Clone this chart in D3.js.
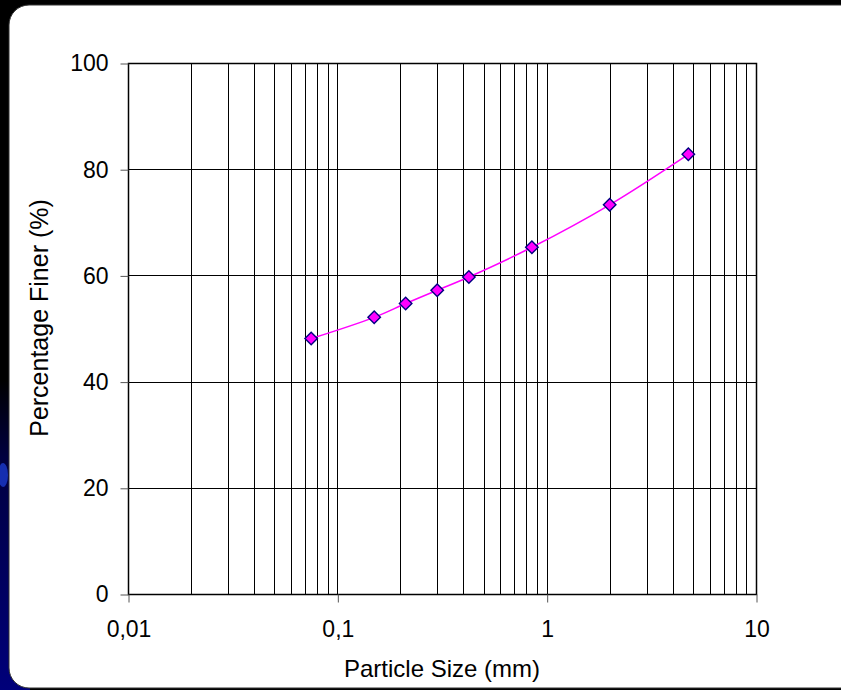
<!DOCTYPE html>
<html>
<head>
<meta charset="utf-8">
<script src="https://cdn.jsdelivr.net/npm/d3@7"></script>
<style>
  body { margin: 0; background: #000; }
  svg { display: block; }
  text { font-family: "Liberation Sans", Arial, sans-serif; fill: #000; }
</style>
</head>
<body>
<div id="chart"></div>
<script>
// sieve sizes (mm) and percentage finer
var sizes = [0.075, 0.15, 0.212, 0.3, 0.425, 0.85, 2, 4.75];
var finer = [48.1, 52.1, 54.7, 57.2, 59.7, 65.3, 73.3, 82.8];

var xTicks = [0.01, 0.1, 1, 10];
var xTickLabels = ["0,01", "0,1", "1", "10"];
var yTicks = [0, 20, 40, 60, 80, 100];

var width = 841, height = 690;
var plotLeft = 128, plotRight = 756, plotTop = 63, plotBottom = 594;

var svg = d3.select("#chart").append("svg")
    .attr("width", width)
    .attr("height", height);

// background + blue glow at lower left
var defs = svg.append("defs");
var glow = defs.append("linearGradient")
    .attr("id", "glow").attr("x1", 0).attr("y1", 0).attr("x2", 0).attr("y2", 1);
glow.append("stop").attr("offset", "0%").attr("stop-color", "#000");
glow.append("stop").attr("offset", "25%").attr("stop-color", "#000040");
glow.append("stop").attr("offset", "100%").attr("stop-color", "#00007a");

svg.append("rect").attr("width", width).attr("height", height).attr("fill", "#000");
svg.append("rect").attr("x", 0).attr("y", 380).attr("width", 30).attr("height", 310)
    .attr("fill", "url(#glow)");
svg.append("ellipse").attr("cx", 3).attr("cy", 475).attr("rx", 5).attr("ry", 12)
    .attr("fill", "#1a3acc").attr("opacity", 0.8);

// white panel
svg.append("rect")
    .attr("x", 9).attr("y", 5)
    .attr("width", 860).attr("height", 683)
    .attr("rx", 20).attr("ry", 20)
    .attr("fill", "#fff")
    .attr("stroke", "#333").attr("stroke-width", 1);

var x = d3.scaleLog().domain([0.01, 10]).range([plotLeft, plotRight]);
var y = d3.scaleLinear().domain([0, 100]).range([plotBottom, plotTop]);

// vertical grid at every 1..9 of each decade
var gridX = [];
xTicks.slice(0, -1).forEach(function (d) {
    for (var k = 1; k < 10; k++) gridX.push(d * k);
});
gridX.push(10);

svg.append("g").selectAll("line")
    .data(gridX)
    .enter().append("line")
    .attr("x1", function (d) { return Math.round(x(d)) + 0.5; })
    .attr("x2", function (d) { return Math.round(x(d)) + 0.5; })
    .attr("y1", plotTop).attr("y2", plotBottom)
    .attr("stroke", "#000").attr("stroke-width", 1);

svg.append("g").selectAll("line")
    .data(yTicks)
    .enter().append("line")
    .attr("x1", plotLeft).attr("x2", plotRight)
    .attr("y1", function (d) { return Math.round(y(d)) + 0.5; })
    .attr("y2", function (d) { return Math.round(y(d)) + 0.5; })
    .attr("stroke", "#000").attr("stroke-width", 1);

// plot frame
svg.append("rect")
    .attr("x", plotLeft + 0.5).attr("y", plotTop + 0.5)
    .attr("width", plotRight - plotLeft).attr("height", plotBottom - plotTop)
    .attr("fill", "none").attr("stroke", "#000").attr("stroke-width", 1.5);

// axes
var yAxis = d3.axisLeft(y).tickValues(yTicks).tickSize(8).tickPadding(12);
var gy = svg.append("g").attr("transform", "translate(" + (plotLeft + 0.5) + ",0.5)").call(yAxis);
gy.select(".domain").remove();
gy.selectAll("text").style("font-size", "23px").attr("font-family", null);
gy.selectAll("line").attr("stroke", "#555");

var xAxis = d3.axisBottom(x).tickValues(xTicks)
    .tickFormat(function (d, i) { return xTickLabels[i]; })
    .tickSize(8).tickPadding(18);
var gx = svg.append("g").attr("transform", "translate(0.5," + (plotBottom + 0.5) + ")").call(xAxis);
gx.select(".domain").remove();
gx.selectAll("text").style("font-size", "23px").attr("font-family", null);
gx.selectAll("line").attr("stroke", "#555");

// titles
svg.append("text")
    .attr("transform", "translate(48,318) rotate(-90)")
    .attr("text-anchor", "middle")
    .style("font-size", "25px")
    .text("Percentage Finer (%)");

svg.append("text")
    .attr("x", 442).attr("y", 677)
    .attr("text-anchor", "middle")
    .style("font-size", "24px")
    .text("Particle Size (mm)");

// curve
var pts = sizes.map(function (d, i) { return [d, finer[i]]; });
var line = d3.line()
    .x(function (d) { return x(d[0]); })
    .y(function (d) { return y(d[1]); })
    .curve(d3.curveCatmullRom);

svg.append("path")
    .datum(pts)
    .attr("d", line)
    .attr("fill", "none")
    .attr("stroke", "#ff00ff")
    .attr("stroke-width", 1.5);

svg.append("g").selectAll("path")
    .data(pts)
    .enter().append("path")
    .attr("d", d3.symbol(d3.symbolSquare, 78))
    .attr("transform", function (d) {
        return "translate(" + x(d[0]) + "," + y(d[1]) + ") rotate(45)";
    })
    .attr("fill", "#ff00ff")
    .attr("stroke", "#000080")
    .attr("stroke-width", 1.4);
</script>
</body>
</html>
